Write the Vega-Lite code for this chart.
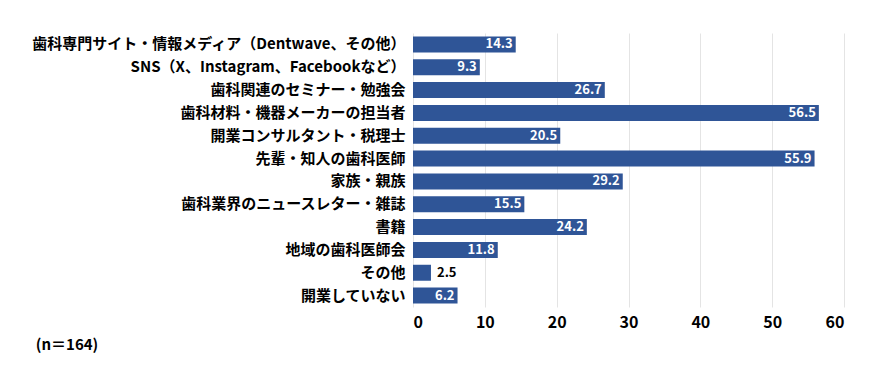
{
  "$schema": "https://vega.github.io/schema/vega-lite/v6.json",
  "autosize": "none",
  "width": 431,
  "height": 274,
  "padding": {"left": 413, "top": 33, "right": 35, "bottom": 78},
  "background": "white",
  "title": {"text": "(n＝164)", "orient": "bottom", "anchor": "start", "frame": "bounds", "dx": 5, "offset": 8, "font": "Noto Sans CJK JP", "fontSize": 15, "fontWeight": "bold", "color": "#000000"},
  "data": {"values": [
    {"cat": "歯科専門サイト・情報メディア（Dentwave、その他）", "v": 14.3},
    {"cat": "SNS（X、Instagram、Facebookなど）", "v": 9.3},
    {"cat": "歯科関連のセミナー・勉強会", "v": 26.7},
    {"cat": "歯科材料・機器メーカーの担当者", "v": 56.5},
    {"cat": "開業コンサルタント・税理士", "v": 20.5},
    {"cat": "先輩・知人の歯科医師", "v": 55.9},
    {"cat": "家族・親族", "v": 29.2},
    {"cat": "歯科業界のニュースレター・雑誌", "v": 15.5},
    {"cat": "書籍", "v": 24.2},
    {"cat": "地域の歯科医師会", "v": 11.8},
    {"cat": "その他", "v": 2.5},
    {"cat": "開業していない", "v": 6.2}
  ]},
  "encoding": {
    "y": {"field": "cat", "type": "nominal", "sort": null, "scale": {"paddingInner": 0.3, "paddingOuter": 0.15},
      "axis": {"title": null, "domain": false, "ticks": false, "labelPadding": 8, "labelFont": "Noto Sans CJK JP", "labelFontSize": 15, "labelFontWeight": "bold", "labelColor": "#000000", "labelLimit": 500}},
    "x": {"field": "v", "type": "quantitative", "scale": {"domain": [0, 60]},
      "axis": {"title": null, "values": [0, 10, 20, 30, 40, 50, 60], "domain": false, "ticks": false, "labelPadding": 7, "labelFont": "Noto Sans CJK JP", "labelFontSize": 16, "labelFontWeight": "bold", "labelColor": "#000000", "gridColor": "#e4e4e4", "gridWidth": 1}}
  },
  "layer": [
    {"mark": {"type": "bar", "color": "#2F5597"}},
    {"transform": [{"filter": "datum.v >= 5"}],
     "mark": {"type": "text", "align": "right", "dx": -3, "color": "#ffffff", "font": "Noto Sans CJK JP", "fontSize": 13, "fontWeight": "bold"},
     "encoding": {"text": {"field": "v", "type": "quantitative", "format": ".1f"}}},
    {"transform": [{"filter": "datum.v < 5"}],
     "mark": {"type": "text", "align": "left", "dx": 6, "color": "#000000", "font": "Noto Sans CJK JP", "fontSize": 13, "fontWeight": "bold"},
     "encoding": {"text": {"field": "v", "type": "quantitative", "format": ".1f"}}}
  ],
  "config": {"view": {"stroke": null}}
}
